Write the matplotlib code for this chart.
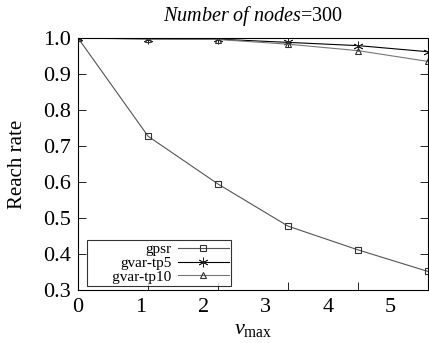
import numpy as np
import matplotlib
matplotlib.use('Agg')
import matplotlib.pyplot as plt

plt.rcParams['font.family'] = 'Liberation Serif'
plt.rcParams['mathtext.fontset'] = 'custom'
plt.rcParams['mathtext.rm'] = 'Liberation Serif'
plt.rcParams['mathtext.it'] = 'Liberation Serif:italic'

vmax = [0, 1.12, 2.24, 3.36, 4.48, 5.6]
gpsr = [1.0, 0.727, 0.594, 0.477, 0.411, 0.351]
gvar_tp5 = [1.0, 0.998, 0.997, 0.988, 0.979, 0.962]
gvar_tp10 = [1.0, 0.997, 0.996, 0.983, 0.965, 0.935]
xlabels = [0, 1, 2, 3, 4, 5]
yticks = [0.3, 0.4, 0.5, 0.6, 0.7, 0.8, 0.9, 1.0]

fig = plt.figure(figsize=(4.29, 3.43), dpi=100)
ax = fig.add_axes([0.182, 0.155, 0.816, 0.734])

ax.plot(vmax, gpsr, color='#555555', lw=0.8, marker='s', ms=5,
        mfc='none', mec='#333333', mew=0.8, label='gpsr')
ax.plot(vmax, gvar_tp5, color='black', lw=0.8, marker=(6, 2, 0), ms=7,
        mfc='none', mec='#222222', mew=0.6, label='gvar-tp5')
ax.plot(vmax, gvar_tp10, color='#777777', lw=0.8, marker='^', ms=5,
        mfc='none', mec='#333333', mew=0.8, label='      gvar-tp10')

ax.set_xlim(0, 5.6)
ax.set_ylim(0.3, 1.0)
# tick marks sit at the data points, labels sit at integer speeds
ax.set_xticks(vmax[1:-1])
ax.set_xticklabels([])
ax.set_xticks(xlabels, minor=True)
ax.set_xticklabels([str(v) for v in xlabels], minor=True)
ax.tick_params(axis='x', which='major', direction='in', length=6, width=0.6)
ax.tick_params(axis='x', which='minor', length=0, pad=6, labelsize=16)
ax.set_yticks(yticks)
ax.set_yticklabels(['%.1f' % v for v in yticks])
ax.tick_params(axis='y', direction='in', length=6, width=0.6, right=True,
               labelsize=16, pad=5)
for s in ax.spines.values():
    s.set_linewidth(0.8)

ax.set_title(r'$\it{Number\ of\ nodes}$=300', fontsize=14.5, pad=12)
ax.set_xlabel(r'$v_{\rm max}$', fontsize=16, labelpad=2)
ax.set_ylabel('Reach rate', fontsize=15, labelpad=12)

leg = ax.legend(loc='lower left', bbox_to_anchor=(0.025, 0.015), fontsize=11,
                markerfirst=False, frameon=True, fancybox=False,
                borderpad=0.15, labelspacing=0.0, handlelength=3.3,
                handletextpad=0.45, borderaxespad=0.0)
leg.get_frame().set_edgecolor('black')
leg.get_frame().set_linewidth(0.8)
for t in leg.get_texts():
    t.set_ha('right')

fig.savefig('out.png', dpi=100)
